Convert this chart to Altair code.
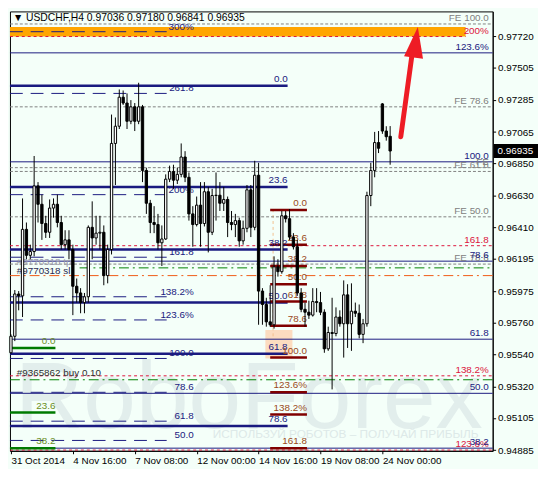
import altair as alt
import pandas as pd

FONT = "Liberation Sans"
W, H = 490, 446
X_DOMAIN = [-0.25, 124.5]
Y_DOMAIN = [0.94880, 0.97892]

title_text = "\u25bc USDCHF,H4  0.97036 0.97180 0.96841 0.96935"
x_tick_bars = [0, 16, 32, 48, 64, 80, 96]
x_tick_labels = ["31 Oct 2014", "4 Nov 16:00", "7 Nov 08:00", "12 Nov 00:00",
                 "14 Nov 16:00", "19 Nov 08:00", "24 Nov 00:00"]
y_ticks = [0.97720, 0.97505, 0.97285, 0.97065, 0.96850, 0.96630, 0.96410,
           0.96195, 0.95975, 0.95760, 0.95540, 0.95320, 0.95105, 0.94885]
last_price = 0.96935

opens = [0.95552, 0.95665, 0.95955, 0.95942, 0.96398, 0.96220, 0.96246, 0.96696, 0.96570, 0.96438,
         0.96378, 0.96544, 0.96570, 0.96445, 0.96293, 0.96326, 0.96260, 0.96008, 0.95962, 0.95896,
         0.95936, 0.96412, 0.96339, 0.96372, 0.96378, 0.96081, 0.96260, 0.96987, 0.97105, 0.97304,
         0.97264, 0.97139, 0.97238, 0.97139, 0.97238, 0.96802, 0.96577, 0.96445, 0.96431, 0.96306,
         0.96332, 0.96742, 0.96795, 0.96735, 0.96775, 0.96894, 0.96755, 0.96504, 0.96431, 0.96564,
         0.96438, 0.96656, 0.96378, 0.96630, 0.96632, 0.96577, 0.96603, 0.96445, 0.96431, 0.96458,
         0.96319, 0.96405, 0.96669, 0.96412, 0.96769, 0.95975, 0.95883, 0.95764, 0.95744, 0.96141,
         0.96108, 0.96491, 0.96471, 0.96345, 0.96279, 0.95962, 0.95850, 0.95830, 0.95810, 0.95903,
         0.95896, 0.95830, 0.95579, 0.95691, 0.95684, 0.95797, 0.95751, 0.95949, 0.95751, 0.95837,
         0.95823, 0.95678, 0.95751, 0.96630, 0.96802, 0.96993, 0.97258, 0.97072, 0.97036]
highs = [0.95678, 0.95982, 0.95975, 0.96610, 0.96445, 0.96293, 0.96901, 0.96722, 0.96636, 0.96491,
         0.96603, 0.96610, 0.96636, 0.96491, 0.96392, 0.96392, 0.96293, 0.96061, 0.95995, 0.95962,
         0.96425, 0.96590, 0.96491, 0.96491, 0.96425, 0.96293, 0.97185, 0.97165, 0.97357, 0.97350,
         0.97330, 0.97284, 0.97264, 0.97403, 0.97251, 0.96821, 0.96600, 0.96557, 0.96504, 0.96425,
         0.96775, 0.96835, 0.96841, 0.96821, 0.96987, 0.96934, 0.96788, 0.96557, 0.96623, 0.96722,
         0.96722, 0.96689, 0.96676, 0.96788, 0.96722, 0.96689, 0.96623, 0.96524, 0.96504, 0.96478,
         0.96458, 0.96702, 0.96702, 0.96868, 0.96854, 0.95995, 0.95929, 0.96015, 0.96213, 0.96193,
         0.96524, 0.96524, 0.96537, 0.96372, 0.96326, 0.95995, 0.95896, 0.95909, 0.95995, 0.95995,
         0.95969, 0.95850, 0.95731, 0.95929, 0.95863, 0.95843, 0.96048, 0.96022, 0.96028, 0.95896,
         0.95883, 0.95784, 0.96656, 0.96854, 0.97066, 0.97072, 0.97264, 0.97105, 0.97106]
lows = [0.95546, 0.95632, 0.95843, 0.95797, 0.96193, 0.96193, 0.96213, 0.96445, 0.96326, 0.96339,
        0.96339, 0.96478, 0.96412, 0.96260, 0.96260, 0.96193, 0.95810, 0.95896, 0.95823, 0.95823,
        0.95896, 0.96193, 0.96293, 0.96260, 0.96015, 0.96028, 0.96226, 0.96702, 0.97086, 0.97251,
        0.97086, 0.97119, 0.97072, 0.97119, 0.96722, 0.96504, 0.96372, 0.96372, 0.96260, 0.96147,
        0.96326, 0.96722, 0.96676, 0.96709, 0.96755, 0.96722, 0.96458, 0.96279, 0.96418, 0.96279,
        0.96418, 0.96240, 0.96359, 0.96458, 0.96524, 0.96524, 0.96345, 0.96392, 0.96345, 0.96279,
        0.96293, 0.96378, 0.96345, 0.96392, 0.95744, 0.95744, 0.95731, 0.95731, 0.95718, 0.96074,
        0.96094, 0.96445, 0.96326, 0.96260, 0.95942, 0.95830, 0.95731, 0.95784, 0.95800, 0.95830,
        0.95810, 0.95552, 0.95565, 0.95301, 0.95665, 0.95731, 0.95519, 0.95585, 0.95565, 0.95797,
        0.95651, 0.95618, 0.95731, 0.96557, 0.96755, 0.96921, 0.97053, 0.97006, 0.96841]
closes = [0.95665, 0.95955, 0.95942, 0.96398, 0.96220, 0.96246, 0.96696, 0.96570, 0.96438, 0.96378,
          0.96544, 0.96570, 0.96445, 0.96293, 0.96326, 0.96260, 0.96008, 0.95962, 0.95896, 0.95936,
          0.96412, 0.96339, 0.96372, 0.96378, 0.96081, 0.96260, 0.96987, 0.97105, 0.97304, 0.97264,
          0.97139, 0.97238, 0.97139, 0.97238, 0.96802, 0.96577, 0.96445, 0.96431, 0.96306, 0.96332,
          0.96742, 0.96795, 0.96735, 0.96775, 0.96894, 0.96755, 0.96504, 0.96431, 0.96564, 0.96438,
          0.96656, 0.96378, 0.96630, 0.96632, 0.96577, 0.96603, 0.96445, 0.96431, 0.96458, 0.96319,
          0.96405, 0.96669, 0.96412, 0.96769, 0.95975, 0.95883, 0.95764, 0.95744, 0.96141, 0.96108,
          0.96491, 0.96471, 0.96345, 0.96279, 0.95962, 0.95850, 0.95830, 0.95810, 0.95903, 0.95896,
          0.95830, 0.95579, 0.95691, 0.95684, 0.95797, 0.95751, 0.95949, 0.95751, 0.95837, 0.95823,
          0.95678, 0.95751, 0.96630, 0.96802, 0.96993, 0.96954, 0.97072, 0.97033, 0.96935]

# Fibonacci / level objects
navy_thin_levels = [0.97608, 0.96861, 0.96180, 0.95645, 0.95274, 0.94898]
navy_thin_labels = ["123.6%", "100.0", "78.6", "61.8", "50.0", "38.2"]
navy_thick_levels = [0.97383, 0.96689, 0.96260, 0.95896, 0.95546, 0.95050]
navy_thick_labels = ["0.0", "23.6", "38.2", "50.0", "61.8", "78.6"]
navy_dash_levels = [0.97753, 0.97330, 0.96636, 0.96207, 0.95936, 0.95777, 0.95513, 0.95281, 0.95083, 0.94951]
navy_dash_labels = ["300%", "261.8", "200%", "161.8", "138.2%", "123.6%", "100.0", "78.6", "61.8", "50.0"]
fe_levels = [0.97806, 0.97238, 0.96821, 0.96795, 0.96484, 0.96160]
fe_labels = ["FE 100.0", "FE 78.6", "FE      ", "FE 61.8", "FE 50.0", "FE 78.6"]
red_levels = [0.97720, 0.96286, 0.95394, 0.94885]
red_labels = ["200%", "161.8", "138.2%", "123.6%"]
red_ends = [117.5, 124.5, 124.5, 124.5]
maroon_levels = [0.96530, 0.96293, 0.96147, 0.96022, 0.95903, 0.95737, 0.95519, 0.95281, 0.95129, 0.94898]
maroon_labels = ["0.0", "23.6", "38.2", "50.0", "61.8", "78.6", "100.0", "123.6%", "138.2%", "161.8"]
green_levels = [0.95585, 0.95142, 0.94898]
green_labels = ["0.0", "23.6", "38.2"]
green_dd_levels = [0.96134, 0.95367]
green_dd_starts = [17.75, -0.25]
orange_dd_levels = [0.96081]
band_range = [0.97720, 0.97785]
box_range = [0.95513, 0.95708]
box_bars = [65.75, 72.75]
vline_bar = 67.75
vline_range = [0.95665, 0.96557]
trade_labels = ["#9770318 tp", "#9770318 sl", "#9365862 buy 0.10"]
trade_levels = [0.96173, 0.96114, 0.95413]
trade_colors = ["#9a9aa8", "#2a2a50", "#303030"]
arrow_bars = [100.75, 103.75]
arrow_prices = [0.97033, 0.97615]
arrow_head = (104.6, 0.97681)

xs = alt.Scale(domain=X_DOMAIN, nice=False, zero=False)
ys = alt.Scale(domain=Y_DOMAIN, nice=False, zero=False)

X_AXIS = alt.Axis(values=x_tick_bars,
                  labelExpr="[" + ",".join("'" + s + "'" for s in x_tick_labels) + "][datum.value/16]",
                  labelAlign="left", labelFlush=False, labelOverlap=False, labelFont=FONT,
                  labelFontSize=10, labelColor="black", tickColor="black", tickSize=3,
                  domainColor="black", grid=False, labelPadding=2, title=None)
Y_AXIS = alt.Axis(orient="right", values=y_ticks, format=".5f", labelFont=FONT, labelFontSize=10,
                  labelColor="black", tickColor="black", tickSize=3, domainColor="black",
                  grid=False, labelPadding=2, labelOverlap=False, labelFlush=False, title=None)


def X(f):
    return alt.X(f + ":Q", scale=xs, axis=X_AXIS)


def Y(f):
    return alt.Y(f + ":Q", scale=ys, axis=Y_AXIS)


def hlines(levels, x1, x2, color, width, dash=None):
    n = len(levels)
    df = pd.DataFrame({"y": levels,
                       "x1": x1 if isinstance(x1, list) else [x1] * n,
                       "x2": x2 if isinstance(x2, list) else [x2] * n})
    kw = dict(color=color, strokeWidth=width)
    if dash:
        kw["strokeDash"] = dash
    return alt.Chart(df).mark_rule(**kw).encode(x=X("x1"), x2="x2:Q", y=Y("y"))


def hlabels(levels, labels, xpos, color, align="right", dy=-1, size=10):
    n = len(levels)
    df = pd.DataFrame({"y": levels, "t": labels,
                       "x": xpos if isinstance(xpos, list) else [xpos] * n})
    return alt.Chart(df).mark_text(align=align, baseline="bottom", dy=dy, color=color,
                                   font=FONT, fontSize=size).encode(x=X("x"), y=Y("y"), text="t:N")


NAVY = "#1a1a80"
layers = []

# watermark
wm = pd.DataFrame({"x": [61.5], "y": [0.95037], "t": ["RoboForex"]})
layers.append(alt.Chart(wm).mark_text(font=FONT, fontSize=96, color="#e2eeec", align="center",
                                      baseline="alphabetic", clip=True).encode(x=X("x"), y=Y("y"), text="t:N"))
wm2 = pd.DataFrame({"x": [86.5], "y": [0.94971], "t": ["ИСПОЛЬЗУЙ РОБОТОВ – ПОЛУЧАЙ ПРИБЫЛЬ"]})
layers.append(alt.Chart(wm2).mark_text(font=FONT, fontSize=12, color="#dde9e8", align="center",
                                       baseline="alphabetic", clip=True).encode(x=X("x"), y=Y("y"), text="t:N"))

# orange band and peach box
band = pd.DataFrame({"x1": [-0.25], "x2": [117.5], "y1": [band_range[0]], "y2": [band_range[1]]})
layers.append(alt.Chart(band).mark_rect(color="#ffa500").encode(x=X("x1"), x2="x2:Q", y=Y("y1"), y2="y2:Q"))
box = pd.DataFrame({"x1": [box_bars[0]], "x2": [box_bars[1]], "y1": [box_range[0]], "y2": [box_range[1]]})
layers.append(alt.Chart(box).mark_rect(color="#fcdcc0").encode(x=X("x1"), x2="x2:Q", y=Y("y1"), y2="y2:Q"))
vl = pd.DataFrame({"x": [vline_bar], "y1": [vline_range[0]], "y2": [vline_range[1]]})
layers.append(alt.Chart(vl).mark_rule(color="#f3c08e", strokeDash=[3, 3]).encode(x=X("x"), y=Y("y1"), y2="y2:Q"))

# level lines
layers.append(hlines(fe_levels, -0.25, 124.5, "#808080", 1, [3, 2]))
layers.append(hlines(green_dd_levels, green_dd_starts, 124.5, "#008000", 1, [10, 4, 2, 4]))
layers.append(hlines(orange_dd_levels, -0.25, 124.5, "#f05a14", 1, [10, 4, 2, 4]))
layers.append(hlines(red_levels, -0.25, red_ends, "#dc143c", 1, [3, 3]))
layers.append(hlines(navy_thin_levels, -0.25, 124.5, NAVY, 1))
layers.append(hlines(navy_dash_levels, -0.25, 40.25, NAVY, 1, [13, 8]))
layers.append(hlines(navy_thick_levels, -0.25, 71.5, NAVY, 2.5))
layers.append(hlines(maroon_levels, 67.0, 76.5, "#800000", 2.5))
layers.append(hlines(green_levels, -0.25, 11.5, "#007a00", 2.5))

# level labels
layers.append(hlabels(fe_levels, fe_labels, 123.5, "#808080"))
layers.append(hlabels(red_levels, red_labels, 123.5, "#dc143c"))
layers.append(hlabels(navy_thin_levels, navy_thin_labels, 123.5, NAVY))
layers.append(hlabels(navy_dash_levels, navy_dash_labels, 47.25, NAVY, dy=0))
layers.append(hlabels(navy_thick_levels, navy_thick_labels, 71.5, NAVY, dy=-2))
layers.append(hlabels(maroon_levels, maroon_labels, 76.5, "#9a4a1a", dy=-2))
layers.append(hlabels(green_levels, green_labels, 11.5, "#6b8e23", dy=-2))

tr = pd.DataFrame({"x": [1.5] * 3, "y": trade_levels, "t": trade_labels, "c": trade_colors})
layers.append(alt.Chart(tr).mark_text(align="left", baseline="middle", font=FONT, fontSize=10).encode(
    x=X("x"), y=Y("y"), text="t:N", color=alt.Color("c:N", scale=None)))

# candles
cd = pd.DataFrame({"i": list(range(len(closes))), "o": opens, "h": highs, "l": lows, "c": closes})
cd["fill"] = ["white" if c >= o else "black" for o, c in zip(opens, closes)]
layers.append(alt.Chart(cd).mark_rule(color="black", strokeWidth=1).encode(
    x=X("i"), y=Y("l"), y2="h:Q"))
layers.append(alt.Chart(cd).transform_calculate(xa="datum.i - 0.3", xb="datum.i + 0.3").mark_bar(
    stroke="black", strokeWidth=1).encode(
    x=X("xa"), x2="xb:Q", y=Y("o"), y2="c:Q", fill=alt.Fill("fill:N", scale=None)))

# red arrow
ar = pd.DataFrame({"x1": [arrow_bars[0]], "x2": [arrow_bars[1]], "y1": [arrow_prices[0]], "y2": [arrow_prices[1]]})
layers.append(alt.Chart(ar).mark_rule(color="#ee1c25", strokeWidth=5, strokeCap="round").encode(
    x=X("x1"), x2="x2:Q", y=Y("y1"), y2="y2:Q"))
ah = pd.DataFrame({"x": [arrow_head[0]], "y": [arrow_head[1]]})
layers.append(alt.Chart(ah).mark_point(shape="M0,-1L0.62,1L-0.62,1Z", size=980, filled=True, opacity=1,
                                       color="#ee1c25", angle=8).encode(x=X("x"), y=Y("y")))

# title and current price box
tt = pd.DataFrame({"t": [title_text]})
layers.append(alt.Chart(tt).mark_text(align="left", baseline="middle", font=FONT, fontSize=10.5,
                                      color="black").encode(x=alt.value(3), y=alt.value(7), text="t:N"))
pb = pd.DataFrame({"y1": [last_price - 0.00048], "y2": [last_price + 0.00048], "y": [last_price],
                   "t": [f"{last_price:.5f}"]})
layers.append(alt.Chart(pb).mark_rect(color="black").encode(
    x=alt.value(W + 1), x2=alt.value(W + 46), y=Y("y1"), y2="y2:Q"))
layers.append(alt.Chart(pb).mark_text(align="left", baseline="middle", font=FONT, fontSize=10,
                                      color="white").encode(x=alt.value(W + 5), y=Y("y"), text="t:N"))

chart = alt.layer(*layers).properties(
    width=W, height=H, background="#f4fff9", padding=0
).configure_view(stroke="black", strokeWidth=1)

chart.save("out.html", embed_options={"renderer": "svg", "actions": False})
